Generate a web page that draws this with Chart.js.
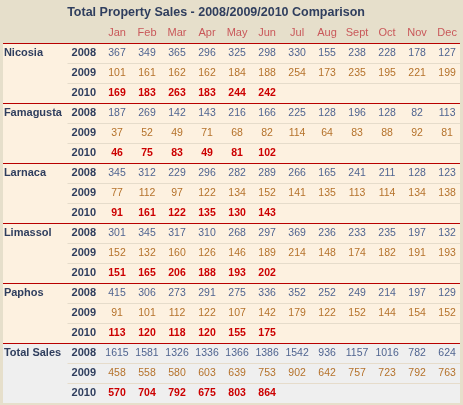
<!DOCTYPE html>
<html><head><meta charset="utf-8">
<script src="https://cdn.jsdelivr.net/npm/chart.js@4"></script>
<style>html,body{margin:0;padding:0;background:#e6dfcb;overflow:hidden}</style>
</head><body>
<canvas id="c" width="463" height="405"></canvas>
<script>
const title = 'Total Property Sales - 2008/2009/2010 Comparison';
const months = ['Jan','Feb','Mar','Apr','May','Jun','Jul','Aug','Sept','Oct','Nov','Dec'];
const years = ['2008','2009','2010'];
const regions = ['Nicosia','Famagusta','Larnaca','Limassol','Paphos','Total Sales'];
const nicosia = [[367,349,365,296,325,298,330,155,238,228,178,127],[101,161,162,162,184,188,254,173,235,195,221,199],[169,183,263,183,244,242]];
const famagusta = [[187,269,142,143,216,166,225,128,196,128,82,113],[37,52,49,71,68,82,114,64,83,88,92,81],[46,75,83,49,81,102]];
const larnaca = [[345,312,229,296,282,289,266,165,241,211,128,123],[77,112,97,122,134,152,141,135,113,114,134,138],[91,161,122,135,130,143]];
const limassol = [[301,345,317,310,268,297,369,236,233,235,197,132],[152,132,160,126,146,189,214,148,174,182,191,193],[151,165,206,188,193,202]];
const paphos = [[415,306,273,291,275,336,352,252,249,214,197,129],[91,101,112,122,107,142,179,122,152,144,154,152],[113,120,118,120,155,175]];
const totals = [[1615,1581,1326,1336,1366,1386,1542,936,1157,1016,782,624],[458,558,580,603,639,753,902,642,757,723,792,763],[570,704,792,675,803,864]];
const tables = [nicosia,famagusta,larnaca,limassol,paphos,totals];

const yearColors = ['#4f6490','#b5722b','#cc0000'];
const points = [];
tables.forEach((t,ri)=>t.forEach((row,yi)=>row.forEach((v,mi)=>points.push({x:mi+1,y:ri*3+yi,v,yi}))));

const F = "'Liberation Sans', Arial, sans-serif";
const tablePlugin = {
  id:'tbl',
  beforeDatasetsDraw(chart){
    const c=chart.ctx, xs=chart.scales.x, ys=chart.scales.y;
    const X=v=>xs.getPixelForValue(v), Y=v=>ys.getPixelForValue(v);
    c.save();
    // table body
    c.fillStyle='#fdf1e0';
    c.fillRect(X(-2.8),Y(-0.5),X(12.43)-X(-2.8),Y(17.5)-Y(-0.5));
    c.fillStyle='#efefef';
    c.fillRect(X(-2.8),Y(14.5),X(12.43)-X(-2.8),Y(17.5)-Y(14.5));
    // thin row separators
    c.strokeStyle='#e6dccb'; c.lineWidth=1;
    for(let r=0;r<18;r++){ if(r%3===0) continue;
      c.beginPath(); c.moveTo(X(-0.65),Math.round(Y(r-0.5))+0.5); c.lineTo(X(12.43),Math.round(Y(r-0.5))+0.5); c.stroke(); }
    // red separators
    c.strokeStyle='#b80000';
    for(let g=0;g<6;g++){ const yy=Math.round(Y(g*3-0.5))+0.5;
      c.beginPath(); c.moveTo(X(-2.8),yy); c.lineTo(X(12.43),yy); c.stroke(); }
    // title
    c.textBaseline='middle';
    c.fillStyle='#2f3e5e'; c.font="bold 12.5px "+F; c.textAlign='center';
    c.fillText(title,X(4.3),Y(-2.02));
    c.fillStyle='#c9585a'; c.font="11px "+F;
    months.forEach((m,i)=>c.fillText(m,X(i+1),Y(-1)));
    // region & year labels
    regions.forEach((r,g)=>{
      c.fillStyle='#2f3e5e'; c.font="bold 11px "+F; c.textAlign='left';
      c.fillText(r,X(-2.77),Y(g*3));
      c.textAlign='right';
      years.forEach((y,yi)=>c.fillText(y,X(0.3),Y(g*3+yi)));
    });
    // values
    c.textAlign='center';
    chart.data.datasets[0].data.forEach(p=>{
      c.fillStyle=yearColors[p.yi];
      c.font=(p.yi===2?"bold ":"")+"10.5px "+F;
      c.fillText(String(p.v),X(p.x),Y(p.y));
    });
    c.restore();
  }
};

new Chart(document.getElementById('c'),{
  type:'scatter',
  data:{datasets:[{data:points,pointRadius:0,showLine:false}]},
  options:{
    responsive:false, animation:false,
    layout:{padding:0},
    plugins:{legend:{display:false},tooltip:{enabled:false}},
    scales:{
      x:{type:'linear',min:-2.9,max:12.53,display:false},
      y:{type:'linear',min:-2.65,max:17.6,reverse:true,display:false}
    }
  },
  plugins:[tablePlugin]
});
</script>
</body></html>
